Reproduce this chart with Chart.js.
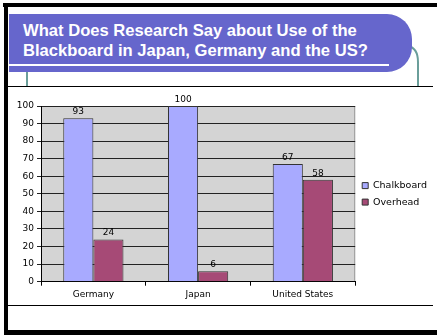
<!DOCTYPE html>
<html>
<head>
<meta charset="utf-8">
<script src="https://cdn.jsdelivr.net/npm/chart.js@4/dist/chart.umd.min.js"></script>
<style>
  html, body { margin: 0; padding: 0; background: #fff; }
  #slide { position: relative; width: 437px; height: 335px; overflow: hidden; background: #fff; }
  .abs { position: absolute; }
  #title { position: absolute; left: 9px; top: 14px; width: 403px; height: 58px; background: #6666CC;
           border-radius: 0 25px 25px 0; }
  #titleText { position: absolute; left: 23px; top: 21px; color: #fff; font-family: "Liberation Sans", Arial, sans-serif;
               font-weight: bold; font-size: 16.6px; line-height: 19.5px; white-space: nowrap; }
  #chartWrap { position: absolute; left: 8px; top: 87px; width: 429px; height: 218px; }
</style>
</head>
<body>
<div id="slide">
  <div class="abs" style="left:3px;top:3px;width:434px;height:4px;background:#000"></div>
  <div class="abs" style="left:4px;top:3px;width:4px;height:332px;background:#000"></div>
  <div class="abs" style="left:4px;top:330px;width:433px;height:5px;background:#000"></div>
  <svg class="abs" style="left:0;top:0" width="437" height="335">
    <line x1="27" y1="70" x2="27" y2="86" stroke="#6A9E9A" stroke-width="2"/>
    <path d="M 408 46 Q 418 48 418 62 L 418 86" fill="none" stroke="#6A9E9A" stroke-width="2"/>
  </svg>
  <div id="title"></div>
  <div class="abs" style="left:9px;top:64px;width:380px;height:2px;background:#fff"></div>
  <div id="titleText">What Does Research Say about Use of the<br>Blackboard in Japan, Germany and the US?</div>
  <div class="abs" style="left:8px;top:86px;width:425px;height:1px;background:#000"></div>
  <div class="abs" style="left:8px;top:305px;width:425px;height:1px;background:#000"></div>
  <div id="chartWrap"><canvas id="c" width="429" height="218"></canvas></div>
</div>
<script>
const categories = ["Germany", "Japan", "United States"];
const seriesNames = ["Chalkboard", "Overhead"];
const chalkboard = [93, 100, 67];
const overhead = [24, 6, 58];
const yTicks = [0, 10, 20, 30, 40, 50, 60, 70, 80, 90, 100];

const FONT = "'DejaVu Sans', Verdana, sans-serif";

const plotBg = {
  id: 'plotBg',
  beforeDraw(chart) {
    const {ctx, chartArea: a} = chart;
    ctx.save();
    ctx.fillStyle = '#D4D4D4';
    ctx.fillRect(a.left, a.top, a.right - a.left, a.bottom - a.top);
    ctx.strokeStyle = '#999';
    ctx.lineWidth = 1;
    ctx.beginPath();
    ctx.moveTo(a.right - 0.5, a.top);
    ctx.lineTo(a.right - 0.5, a.bottom);
    ctx.stroke();
    ctx.restore();
  }
};

const valueLabels = {
  id: 'valueLabels',
  afterDatasetsDraw(chart) {
    const ctx = chart.ctx;
    ctx.save();
    ctx.font = "9px " + FONT;
    ctx.fillStyle = '#000';
    ctx.textAlign = 'center';
    ctx.textBaseline = 'bottom';
    chart.data.datasets.forEach((ds, i) => {
      chart.getDatasetMeta(i).data.forEach((bar, j) => {
        ctx.fillText(String(ds.data[j]), bar.x, bar.y - 2);
      });
    });
    ctx.restore();
  }
};

new Chart(document.getElementById('c'), {
  type: 'bar',
  data: {
    labels: categories,
    datasets: [
      { label: seriesNames[0], data: chalkboard, backgroundColor: '#A8AAFF', borderColor: '#333', borderWidth: 1 },
      { label: seriesNames[1], data: overhead, backgroundColor: '#A64A76', borderColor: '#333', borderWidth: 1 }
    ]
  },
  options: {
    responsive: false,
    animation: false,
    devicePixelRatio: 1,
    layout: { padding: { top: 19, left: 0, right: 0, bottom: 0 } },
    datasets: { bar: { categoryPercentage: 0.575, barPercentage: 1.0 } },
    scales: {
      x: {
        grid: { display: true, offset: true, drawOnChartArea: false, drawTicks: true, tickLength: 4, color: '#000' },
        border: { display: true, color: '#000', width: 1 },
        ticks: { font: { family: FONT, size: 9 }, color: '#000', padding: 4, maxRotation: 0 },
        afterFit(s) { s.height = 23.3; }
      },
      y: {
        min: 0, max: 100,
        afterBuildTicks(s) { s.ticks = yTicks.map(v => ({ value: v })); },
        grid: { color: '#222', lineWidth: 1, drawTicks: true, tickLength: 4 },
        border: { display: true, color: '#000', width: 1 },
        ticks: { font: { family: FONT, size: 9 }, color: '#000', padding: 3 },
        afterFit(s) { s.width = 33; }
      }
    },
    plugins: {
      legend: {
        position: 'right',
        fullSize: false,
        labels: { font: { family: FONT, size: 9.5 }, color: '#000', boxWidth: 6, boxHeight: 6, padding: 7, useBorderRadius: false }
      },
      tooltip: { enabled: false },
      title: { display: false }
    }
  },
  plugins: [plotBg, valueLabels]
});
</script>
</body>
</html>
